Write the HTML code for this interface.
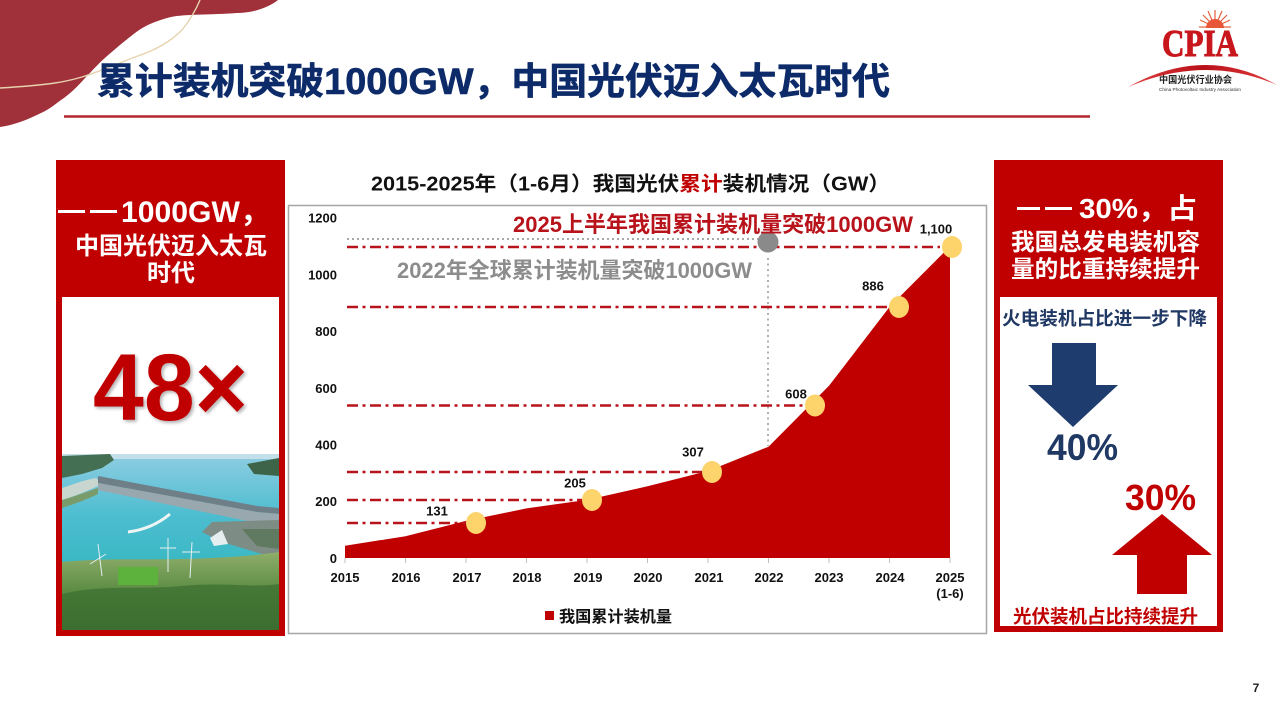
<!DOCTYPE html>
<html><head><meta charset="utf-8">
<style>
html,body{margin:0;padding:0;background:#fff;}
body{width:1280px;height:720px;overflow:hidden;position:relative;}
svg{position:absolute;left:0;top:0;}
text{font-family:"Liberation Sans","Noto Sans CJK SC","WenQuanYi Zen Hei",sans-serif;}
</style></head>
<body>
<svg width="1280" height="720" viewBox="0 0 1280 720" xmlns="http://www.w3.org/2000/svg">
<defs>
  <linearGradient id="water" x1="0" y1="0" x2="0" y2="1">
    <stop offset="0" stop-color="#8fcde2"/>
    <stop offset="0.35" stop-color="#4dbdd0"/>
    <stop offset="1" stop-color="#1fb1b2"/>
  </linearGradient>
  <linearGradient id="land" x1="0" y1="0" x2="0" y2="1">
    <stop offset="0" stop-color="#8fae6a"/>
    <stop offset="0.5" stop-color="#5c8c44"/>
    <stop offset="1" stop-color="#2f5e2a"/>
  </linearGradient>
  <linearGradient id="swoosh" x1="0" y1="0" x2="1" y2="0">
    <stop offset="0" stop-color="#e04040"/>
    <stop offset="0.5" stop-color="#b80f18"/>
    <stop offset="1" stop-color="#e04040"/>
  </linearGradient>
  <filter id="sh" x="-10%" y="-10%" width="130%" height="130%">
    <feDropShadow dx="2" dy="2" stdDeviation="1.5" flood-color="#000" flood-opacity="0.3"/>
  </filter>
</defs>

<!-- top-left decoration -->
<path d="M0,0 L278,0 C268,8 252,13 237,13 C210,15 185,14 171,17 C155,21 144,26 135,33 C122,43 114,50 106,57 C97,65 92,71 86,77 C77,87 70,94 61,100 C53,106 48,110 41,113 C27,120 14,125 0,127 Z" fill="#a0303a"/>
<path d="M200,0 C195,12 190,20 182,30 C170,42 156,50 135,57 C112,66 98,72 82,77 C65,82 50,85 0,88" fill="none" stroke="#e6d3ae" stroke-width="1.4"/>

<!-- main title -->
<text x="97" y="94" font-size="37" font-weight="bold" fill="#0d2b69" stroke="#0d2b69" stroke-width="0.6" textLength="793" lengthAdjust="spacingAndGlyphs">累计装机突破1000GW，中国光伏迈入太瓦时代</text>
<line x1="64" y1="116.5" x2="1090" y2="116.5" stroke="#b3262e" stroke-width="2.5"/>

<!-- CPIA logo -->
<g>
  <g stroke="#e4603a" stroke-width="1.2">
    <line x1="1215" y1="27" x2="1199" y2="27"/>
    <line x1="1215" y1="27" x2="1200" y2="20"/>
    <line x1="1215" y1="27" x2="1203" y2="15"/>
    <line x1="1215" y1="27" x2="1208" y2="11"/>
    <line x1="1215" y1="27" x2="1215" y2="10"/>
    <line x1="1215" y1="27" x2="1222" y2="11"/>
    <line x1="1215" y1="27" x2="1227" y2="15"/>
    <line x1="1215" y1="27" x2="1230" y2="20"/>
    <line x1="1215" y1="27" x2="1231" y2="27"/>
  </g>
  <path d="M1206,28 A9,9 0 0 1 1224,28 Z" fill="#e8563a"/>
  <text x="1162" y="56" font-size="38" font-weight="bold" fill="#c8161d" stroke="#c8161d" stroke-width="1" textLength="76" lengthAdjust="spacingAndGlyphs" style="font-family:'Liberation Serif',serif">CPIA</text>
  <path d="M1128,87 Q1205,44 1277,85 Q1205,54 1128,87 Z" fill="url(#swoosh)"/>
  <text x="1159" y="83" font-size="9.5" font-weight="bold" fill="#222" textLength="73" lengthAdjust="spacingAndGlyphs">中国光伏行业协会</text>
  <text x="1159" y="91" font-size="4.6" fill="#333" textLength="82" lengthAdjust="spacingAndGlyphs">China Photovoltaic Industry Association</text>
</g>

<!-- LEFT PANEL -->
<rect x="56" y="160" width="229" height="476" fill="#c00000"/>
<rect x="62" y="297" width="217" height="157" fill="#fff"/>
<rect x="58" y="210" width="27" height="3" fill="#fff"/>
<rect x="90" y="210" width="27" height="3" fill="#fff"/>
<text x="121" y="222" font-size="30" font-weight="bold" fill="#fff" textLength="149" lengthAdjust="spacingAndGlyphs">1000GW，</text>
<text x="171" y="254" font-size="24" font-weight="bold" fill="#fff" text-anchor="middle" textLength="192" lengthAdjust="spacingAndGlyphs">中国光伏迈入太瓦</text>
<text x="171" y="281" font-size="24" font-weight="bold" fill="#fff" text-anchor="middle">时代</text>
<text x="93" y="420" font-size="95" font-weight="bold" fill="#c00000" textLength="155" lengthAdjust="spacingAndGlyphs" filter="url(#sh)">48×</text>

<!-- photo -->
<g transform="translate(62,454)">
  <rect x="0" y="0" width="217" height="176" fill="url(#water)"/>
  <rect x="0" y="0" width="217" height="5" fill="#c3e0ea"/>
  <path d="M0,2 L48,0 L52,6 L40,14 L20,20 L0,24 Z" fill="#456f52"/>
  <path d="M185,10 L217,4 L217,22 L192,20 Z" fill="#3d6448"/>
  <path d="M0,34 C12,30 22,26 34,24 L40,30 C28,36 14,42 0,46 Z" fill="#c9d6cf"/>
  <path d="M0,46 C14,42 24,38 36,34 L36,40 C24,46 12,50 0,54 Z" fill="#7a9c6a"/>
  <path d="M36,22 L195,52 L217,54 L217,60 L195,58 L36,29 Z" fill="#6f7f88"/>
  <path d="M36,29 L195,58 L217,60 L217,68 L190,68 L36,36 Z" fill="#98a8ae"/>
  <path d="M150,68 L217,66 L217,102 L200,100 L160,88 L140,78 Z" fill="#7d8c84"/>
  <path d="M180,75 L217,75 L217,95 L195,92 Z" fill="#5f7a60"/>
  <path d="M66,78 C82,76 96,70 108,60" fill="none" stroke="#eef4f4" stroke-width="3"/>
  <path d="M148,84 L160,76 L166,90 L152,92 Z" fill="#e6eef0"/>
  <path d="M0,108 C40,104 80,106 120,105 C160,104 190,102 217,98 L217,176 L0,176 Z" fill="url(#land)"/>
  <rect x="56" y="113" width="40" height="18" fill="#5db23e"/>
  <path d="M0,140 C40,130 80,136 120,132 C160,128 190,134 217,130 L217,176 L0,176 Z" fill="#3f7232" opacity="0.8"/>
  <g stroke="#e8eef0" stroke-width="1">
    <line x1="36" y1="90" x2="40" y2="122"/>
    <line x1="106" y1="84" x2="106" y2="118"/>
    <line x1="130" y1="88" x2="128" y2="124"/>
    <line x1="28" y1="110" x2="44" y2="100"/>
    <line x1="98" y1="94" x2="114" y2="94"/>
    <line x1="120" y1="98" x2="138" y2="98"/>
  </g>
</g>

<!-- CHART -->
<text x="371" y="190.5" font-size="20" font-weight="bold" fill="#111" textLength="519" lengthAdjust="spacingAndGlyphs">2015-2025年（1-6月）我国光伏<tspan fill="#c00000">累计</tspan>装机情况（GW）</text>
<rect x="288.5" y="205.5" width="698" height="428" fill="#fff" stroke="#a6a6a6" stroke-width="1.5"/>

<!-- y labels -->
<g font-size="13" font-weight="bold" fill="#111" text-anchor="end">
  <text x="337" y="222.5">1200</text>
  <text x="337" y="279.5">1000</text>
  <text x="337" y="336">800</text>
  <text x="337" y="393">600</text>
  <text x="337" y="449.5">400</text>
  <text x="337" y="506">200</text>
  <text x="337" y="563">0</text>
</g>

<!-- area -->
<path d="M345,558 L345,545.8 L405.5,536.2 L466,520.9 L526.5,508.4 L587,499.9 L647.5,486.3 L708,471 L768.5,446.7 L829,385.8 L889.5,307 L950,246.4 L950,558 Z" fill="#c00000"/>
<!-- ticks -->
<g stroke="#bfbfbf" stroke-width="1">
  <line x1="345" y1="558" x2="345" y2="563"/>
  <line x1="405.5" y1="558" x2="405.5" y2="563"/>
  <line x1="466" y1="558" x2="466" y2="563"/>
  <line x1="526.5" y1="558" x2="526.5" y2="563"/>
  <line x1="587" y1="558" x2="587" y2="563"/>
  <line x1="647.5" y1="558" x2="647.5" y2="563"/>
  <line x1="708" y1="558" x2="708" y2="563"/>
  <line x1="768.5" y1="558" x2="768.5" y2="563"/>
  <line x1="829" y1="558" x2="829" y2="563"/>
  <line x1="889.5" y1="558" x2="889.5" y2="563"/>
  <line x1="950" y1="558" x2="950" y2="563"/>
</g>

<!-- x labels -->
<g font-size="13" font-weight="bold" fill="#111" text-anchor="middle">
  <text x="345" y="582">2015</text>
  <text x="406" y="582">2016</text>
  <text x="467" y="582">2017</text>
  <text x="527" y="582">2018</text>
  <text x="588" y="582">2019</text>
  <text x="648" y="582">2020</text>
  <text x="709" y="582">2021</text>
  <text x="769" y="582">2022</text>
  <text x="829" y="582">2023</text>
  <text x="890" y="582">2024</text>
  <text x="950" y="582">2025</text>
  <text x="950" y="598">(1-6)</text>
</g>

<!-- gray dotted -->
<line x1="347" y1="239" x2="758" y2="239" stroke="#a8a8a8" stroke-width="2" stroke-dasharray="2 3"/>
<line x1="768" y1="258" x2="768" y2="446" stroke="#b0b0b0" stroke-width="2" stroke-dasharray="2 3.5"/>

<!-- dash-dot lines -->
<g stroke="#b8121b" stroke-width="2.6" stroke-dasharray="11 4.5 3 4.5" fill="none">
  <line x1="347" y1="247" x2="940" y2="247"/>
  <line x1="347" y1="307" x2="888" y2="307"/>
  <line x1="347" y1="405.5" x2="805" y2="405.5"/>
  <line x1="347" y1="472" x2="702" y2="472"/>
  <line x1="347" y1="500" x2="582" y2="500"/>
  <line x1="347" y1="523" x2="466" y2="523"/>
</g>

<circle cx="768" cy="242" r="10.5" fill="#8a8a8a"/>

<!-- markers -->
<g fill="#fdd36b">
  <ellipse cx="476" cy="523" rx="10" ry="11"/>
  <ellipse cx="592" cy="500" rx="10" ry="11"/>
  <ellipse cx="712" cy="472" rx="10" ry="11"/>
  <ellipse cx="815" cy="405.5" rx="10" ry="11"/>
  <ellipse cx="899" cy="307" rx="10" ry="11"/>
  <ellipse cx="952" cy="247" rx="10" ry="11"/>
</g>

<!-- value labels -->
<g font-size="13" font-weight="bold" fill="#111" text-anchor="middle">
  <text x="437" y="515.5">131</text>
  <text x="575" y="487.5">205</text>
  <text x="693" y="456.5">307</text>
  <text x="796" y="398.5">608</text>
  <text x="873" y="290.5">886</text>
  <text x="936" y="233.5">1,100</text>
</g>

<!-- annotations -->
<text x="513" y="232" font-size="22" font-weight="bold" fill="#b8121b" textLength="400" lengthAdjust="spacingAndGlyphs">2025上半年我国累计装机量突破1000GW</text>
<text x="397" y="278" font-size="22" font-weight="bold" fill="#8c8c8c" textLength="355" lengthAdjust="spacingAndGlyphs">2022年全球累计装机量突破1000GW</text>

<!-- legend -->
<rect x="545" y="611" width="9" height="9" fill="#c00000"/>
<text x="559" y="622" font-size="16" font-weight="bold" fill="#111" textLength="113" lengthAdjust="spacingAndGlyphs">我国累计装机量</text>

<!-- RIGHT PANEL -->
<rect x="994" y="160" width="229" height="472" fill="#c00000"/>
<rect x="1000" y="297" width="217" height="329" fill="#fff"/>
<rect x="1017" y="207" width="23" height="3" fill="#fff"/>
<rect x="1045" y="207" width="27" height="3" fill="#fff"/>
<text x="1079" y="218" font-size="28" font-weight="bold" fill="#fff" textLength="118" lengthAdjust="spacingAndGlyphs">30%，占</text>
<text x="1011" y="250" font-size="23.5" font-weight="bold" fill="#fff" textLength="189" lengthAdjust="spacingAndGlyphs">我国总发电装机容</text>
<text x="1011" y="277" font-size="23.5" font-weight="bold" fill="#fff" textLength="189" lengthAdjust="spacingAndGlyphs">量的比重持续提升</text>

<text x="1002" y="325" font-size="18.5" font-weight="bold" fill="#203864" textLength="205" lengthAdjust="spacingAndGlyphs">火电装机占比进一步下降</text>
<path d="M1052,343 L1096,343 L1096,385 L1118,385 L1073,427 L1028,385 L1052,385 Z" fill="#1f3c6e"/>
<text x="1047" y="460" font-size="37" font-weight="bold" fill="#1f3864" textLength="71" lengthAdjust="spacingAndGlyphs">40%</text>

<text x="1125" y="510" font-size="36" font-weight="bold" fill="#c00000" textLength="71" lengthAdjust="spacingAndGlyphs">30%</text>
<path d="M1162,514 L1212,555 L1187,555 L1187,594 L1137,594 L1137,555 L1112,555 Z" fill="#c00000"/>
<text x="1013" y="623" font-size="18.5" font-weight="bold" fill="#c00000" textLength="185" lengthAdjust="spacingAndGlyphs">光伏装机占比持续提升</text>

<!-- page number -->
<text x="1256" y="692" font-size="12" font-weight="bold" fill="#222" text-anchor="middle">7</text>
</svg>
</body></html>
